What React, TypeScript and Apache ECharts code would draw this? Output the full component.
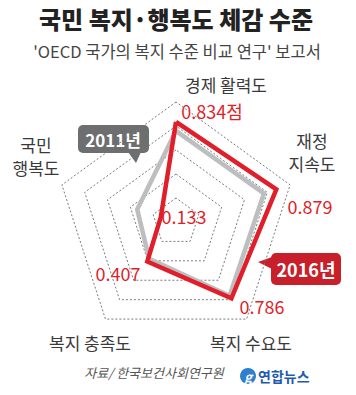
import React, { useEffect, useRef } from "react";
import * as echarts from "echarts";

const indicators = ["경제 활력도", "국민 행복도", "복지 충족도", "복지 수요도", "재정 지속도"];
const values2016 = [0.834, 0.133, 0.407, 0.786, 0.879];
const values2011 = [0.76, 0.34, 0.38, 0.76, 0.77];
const seriesNames = ["2011년", "2016년"];
const title = "국민 복지·행복도 체감 수준";
const subtitle = "'OECD 국가의 복지 수준 비교 연구' 보고서";
const source = "자료/ 한국보건사회연구원";

const RED = "#e11f2a";
const GRAY = "#bdbec0";
const FONT = "'Noto Sans CJK KR', 'Noto Sans', sans-serif";

export default function App() {
  const ref = useRef<HTMLDivElement>(null);
  useEffect(() => {
    const chart = echarts.init(ref.current!, null, { renderer: "svg" });
    const fmt = (v: number) => v.toFixed(3);
    const axisText = (text: string, x: number, y: number, align = "left") => ({
      type: "text",
      x,
      y,
      style: { text, fill: "#3a3a3a", font: `17px ${FONT}`, textAlign: align, textVerticalAlign: "middle", lineHeight: 23 },
    });
    const redText = (text: string, x: number, y: number, align = "center") => ({
      type: "text",
      x,
      y,
      style: { text, fill: RED, font: `18px ${FONT}`, textAlign: align, textVerticalAlign: "middle" },
    });
    chart.setOption({
      animation: false,
      radar: {
        center: [176, 222],
        radius: 120,
        startAngle: 90,
        splitNumber: 5,
        shape: "polygon",
        indicator: indicators.map((n) => ({ name: n, max: 1, min: 0 })),
        axisName: { show: false },
        axisLine: { show: false },
        axisTick: { show: false },
        axisLabel: { show: false },
        splitArea: { show: false },
        splitLine: { lineStyle: { color: "#7a7a7a", width: 1, type: [2, 2] } },
      },
      series: [
        {
          type: "radar",
          symbol: "none",
          data: [
            { name: seriesNames[0], value: values2011, lineStyle: { color: GRAY, width: 4.5 } },
            { name: seriesNames[1], value: values2016, lineStyle: { color: RED, width: 4.5, join: "miter" } },
          ],
        },
      ],
      graphic: [
        { type: "text", x: 176, y: 18, style: { text: title, fill: "#222", font: `900 24px ${FONT}`, textAlign: "center", textVerticalAlign: "middle" } },
        { type: "text", x: 177, y: 51, style: { text: subtitle, fill: "#444", font: `16.5px ${FONT}`, textAlign: "center", textVerticalAlign: "middle" } },
        axisText(indicators[0], 226, 84, "center"),
        redText(fmt(values2016[0]) + "점", 212, 111),
        axisText("국민\n행복도", 36, 156, "center"),
        redText(fmt(values2016[1]), 184, 216),
        axisText(indicators[2], 90, 342, "center"),
        redText(fmt(values2016[2]), 118, 273),
        axisText(indicators[3], 251, 342, "center"),
        redText(fmt(values2016[3]), 262, 306),
        axisText("재정\n지속도", 312, 152, "center"),
        redText(fmt(values2016[4]), 310, 206),
        // 2011 callout
        { type: "rect", shape: { x: 78, y: 125, width: 71, height: 28, r: 5 }, style: { fill: "#6d6e70" } },
        { type: "polygon", shape: { points: [[128, 152], [141, 152], [136, 163]] }, style: { fill: "#6d6e70" } },
        { type: "text", x: 113, y: 139, style: { text: seriesNames[0], fill: "#fff", font: `bold 17px ${FONT}`, textAlign: "center", textVerticalAlign: "middle" } },
        // 2016 callout
        { type: "rect", shape: { x: 271, y: 253, width: 70, height: 32, r: 5 }, style: { fill: "#c8202a" } },
        { type: "polygon", shape: { points: [[272, 257], [272, 269], [258, 262]] }, style: { fill: "#c8202a" } },
        { type: "text", x: 306, y: 269, style: { text: seriesNames[1], fill: "#fff", font: `bold 18px ${FONT}`, textAlign: "center", textVerticalAlign: "middle" } },
        // footer
        { type: "text", x: 154, y: 372, style: { text: source, fill: "#555", font: `italic 13px ${FONT}`, textAlign: "center", textVerticalAlign: "middle" } },
        { type: "circle", shape: { cx: 248, cy: 376, r: 8 }, style: { fill: "#2f7fd0" } },
        { type: "text", x: 248, y: 376, style: { text: "g", fill: "#fff", font: `italic bold 13px ${FONT}`, textAlign: "center", textVerticalAlign: "middle" } },
        { type: "text", x: 258, y: 376, style: { text: "연합뉴스", fill: "#1d5bb0", font: `bold 14px ${FONT}`, textAlign: "left", textVerticalAlign: "middle" } },
      ],
    });
    return () => chart.dispose();
  }, []);
  return (
    <div
      ref={ref}
      style={{ position: "absolute", left: 0, top: 0, width: 356, height: 395, background: "#fff" }}
    />
  );
}
